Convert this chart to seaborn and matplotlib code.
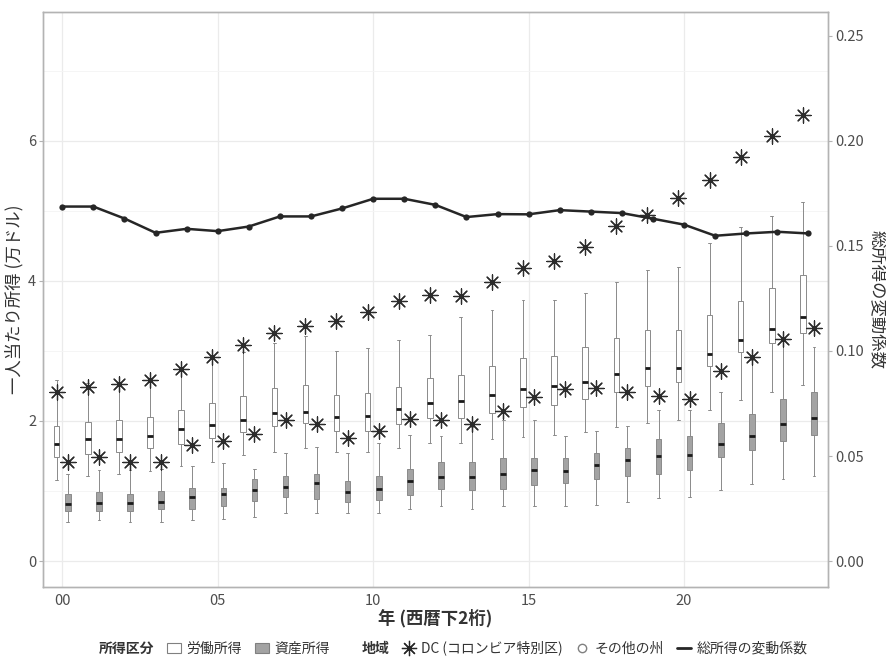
import numpy as np
import pandas as pd
import matplotlib
matplotlib.use("Agg")
import matplotlib.pyplot as plt
from matplotlib.lines import Line2D
from matplotlib.patches import Patch
from matplotlib.ticker import MultipleLocator
import seaborn as sns

# ======================
# データ
# ======================
years = np.arange(0, 25)
year_labels = ["00", "05", "10", "15", "20"]

# 労働所得: ひげ下端, 第1四分位, 中央値, 第3四分位, ひげ上端
labor_lo = [1.16, 1.22, 1.25, 1.29, 1.36, 1.42, 1.51, 1.56, 1.61, 1.56, 1.56, 1.61, 1.68,
            1.68, 1.74, 1.77, 1.80, 1.84, 1.92, 1.97, 2.01, 2.16, 2.30, 2.42, 2.51]
labor_q1 = [1.48, 1.53, 1.56, 1.61, 1.67, 1.76, 1.84, 1.93, 1.97, 1.85, 1.86, 1.96, 2.04,
            2.04, 2.12, 2.20, 2.23, 2.31, 2.42, 2.50, 2.55, 2.78, 2.98, 3.12, 3.25]
labor_med = [1.67, 1.74, 1.74, 1.79, 1.88, 1.94, 2.02, 2.12, 2.13, 2.06, 2.07, 2.17, 2.25,
             2.29, 2.37, 2.45, 2.50, 2.56, 2.67, 2.75, 2.76, 2.96, 3.15, 3.31, 3.48]
labor_q3 = [1.93, 1.98, 2.01, 2.06, 2.16, 2.25, 2.35, 2.47, 2.51, 2.37, 2.40, 2.49, 2.62,
            2.66, 2.79, 2.90, 2.93, 3.05, 3.19, 3.30, 3.30, 3.51, 3.71, 3.90, 4.08]
labor_hi = [2.59, 2.54, 2.51, 2.59, 2.73, 2.90, 2.99, 3.11, 3.21, 3.00, 3.04, 3.16, 3.23,
            3.48, 3.59, 3.72, 3.73, 3.83, 3.98, 4.15, 4.20, 4.54, 4.77, 4.92, 5.12]

# 資産所得
asset_lo = [0.56, 0.58, 0.56, 0.56, 0.59, 0.60, 0.63, 0.68, 0.68, 0.68, 0.68, 0.75, 0.78,
            0.75, 0.78, 0.78, 0.78, 0.80, 0.85, 0.90, 0.91, 1.01, 1.10, 1.17, 1.21]
asset_q1 = [0.72, 0.72, 0.72, 0.74, 0.75, 0.79, 0.86, 0.91, 0.89, 0.84, 0.87, 0.94, 1.03,
            1.01, 1.03, 1.08, 1.11, 1.17, 1.21, 1.24, 1.30, 1.49, 1.58, 1.71, 1.80]
asset_med = [0.81, 0.83, 0.83, 0.85, 0.92, 0.96, 1.01, 1.06, 1.11, 0.99, 1.03, 1.14, 1.20,
             1.20, 1.24, 1.30, 1.29, 1.37, 1.44, 1.50, 1.51, 1.67, 1.79, 1.95, 2.04]
asset_q3 = [0.96, 0.99, 0.96, 1.00, 1.04, 1.05, 1.17, 1.21, 1.25, 1.15, 1.21, 1.32, 1.41,
            1.41, 1.47, 1.47, 1.47, 1.55, 1.61, 1.74, 1.79, 1.97, 2.10, 2.31, 2.41]
asset_hi = [1.25, 1.30, 1.30, 1.32, 1.36, 1.40, 1.32, 1.54, 1.63, 1.55, 1.68, 1.80, 1.79,
            1.92, 2.01, 2.01, 1.79, 1.85, 1.93, 2.16, 2.16, 2.41, 2.87, 3.16, 3.06]

# DC (コロンビア特別区)
dc_labor = [2.41, 2.48, 2.53, 2.59, 2.74, 2.92, 3.08, 3.25, 3.36, 3.43, 3.55, 3.71, 3.80,
            3.79, 3.99, 4.19, 4.29, 4.48, 4.79, 4.94, 5.18, 5.44, 5.77, 6.07, 6.37]
dc_asset = [1.42, 1.49, 1.41, 1.41, 1.66, 1.71, 1.81, 2.01, 1.95, 1.75, 1.85, 2.03, 2.02,
            1.96, 2.14, 2.34, 2.45, 2.47, 2.42, 2.35, 2.31, 2.71, 2.92, 3.17, 3.33]

# 総所得の変動係数 (右軸)
cv_total = [0.1687, 0.1687, 0.1630, 0.1562, 0.1581, 0.1570, 0.1592, 0.1640, 0.1640, 0.1678,
            0.1724, 0.1724, 0.1695, 0.1637, 0.1651, 0.1650, 0.1670, 0.1663, 0.1656, 0.1629,
            0.1601, 0.1548, 0.1559, 0.1567, 0.1559]

scale = 30  # 右軸 = 左軸 / 30

# ======================
# ロング形式に整形
# ======================
rows = []
for kind, stats in [("労働所得", (labor_lo, labor_q1, labor_med, labor_q3, labor_hi)),
                    ("資産所得", (asset_lo, asset_q1, asset_med, asset_q3, asset_hi))]:
    for i, y in enumerate(years):
        for s in stats:
            rows.append({"year": y, "kind": kind, "value": s[i]})
df = pd.DataFrame(rows)

# ======================
# 描画
# ======================
sns.set_theme(style="white")
plt.rcParams["font.family"] = ["Noto Sans CJK JP", "DejaVu Sans"]

fig = plt.figure(figsize=(8.87, 6.6), dpi=100)
ax = fig.add_axes([0.0485, 0.1106, 0.885, 0.8714])

ax.yaxis.set_minor_locator(MultipleLocator(1))
ax.grid(True, which="major", color="#ebebeb", linewidth=0.9)
ax.grid(True, which="minor", axis="y", color="#f4f4f4", linewidth=0.6)
ax.set_axisbelow(True)

sns.boxplot(data=df, x="year", y="value", hue="kind", native_scale=True,
            width=0.72, gap=0.5, whis=(0, 100), showfliers=False,
            palette={"労働所得": "white", "資産所得": "#a3a3a3"},
            linecolor="#8a8a8a", linewidth=0.7,
            medianprops={"color": "#1a1a1a", "linewidth": 2},
            legend=False, ax=ax)

star = (8, 2, 0)
sns.scatterplot(x=years - 0.18, y=dc_labor, marker=star, s=120,
                color="#2b2b2b", linewidth=0.9, ax=ax, zorder=5)
sns.scatterplot(x=years + 0.18, y=dc_asset, marker=star, s=120,
                color="#2b2b2b", linewidth=0.9, ax=ax, zorder=5)

ax.set_xlim(-0.62, 24.63)
ax.set_ylim(-0.37, 7.84)
ax.set_xticks([0, 5, 10, 15, 20])
ax.set_xticklabels(year_labels)
ax.set_yticks([0, 2, 4, 6])

ax2 = ax.twinx()
sns.lineplot(x=years, y=cv_total, color="#262626", linewidth=1.8,
             marker="o", markersize=4.5, markeredgewidth=0, ax=ax2, zorder=6)
ax2.set_ylim(-0.37 / scale, 7.84 / scale)
ax2.set_yticks([0.0, 0.05, 0.10, 0.15, 0.20, 0.25])
ax2.set_yticklabels(["0.00", "0.05", "0.10", "0.15", "0.20", "0.25"])

for a in (ax, ax2):
    for sp in a.spines.values():
        sp.set_color("#b3b3b3")
        sp.set_linewidth(1.0)
    a.tick_params(axis="both", which="major", length=3, width=0.8, color="#b3b3b3",
                  labelsize=10.5, labelcolor="#4d4d4d", pad=2)
    a.tick_params(which="minor", length=0)

ax.set_xlabel("年 (西暦下2桁)", fontsize=12.5, fontweight="bold", color="#333333", labelpad=1)
ax.set_ylabel("一人当たり所得 (万ドル)", fontsize=12.5, color="#333333", labelpad=3)
ax2.set_ylabel("総所得の変動係数", fontsize=12.5, color="#333333",
               rotation=-90, labelpad=16)

# ======================
# 凡例 (下部, 1行)
# ======================
blank = Line2D([], [], linestyle="none")
handles = [
    blank,
    Patch(facecolor="white", edgecolor="#808080", linewidth=0.8),
    Patch(facecolor="#a3a3a3", edgecolor="#808080", linewidth=0.8),
    blank,
    Line2D([], [], marker=star, linestyle="none", color="#262626", markersize=11, markeredgewidth=0.9),
    Line2D([], [], marker="o", linestyle="none", markerfacecolor="none", markeredgecolor="#808080", markersize=6),
    Line2D([], [], color="#262626", linewidth=2),
]
labels = ["所得区分", "労働所得", "資産所得", "地域", "DC (コロンビア特別区)", "その他の州", "総所得の変動係数"]
leg = fig.legend(handles, labels, loc="center", bbox_to_anchor=(0.5, 0.018), ncol=7,
                 frameon=False, fontsize=10, handlelength=1.0, handletextpad=0.4,
                 columnspacing=0.9)
for t in leg.get_texts():
    t.set_color("#333333")
    if t.get_text() in ("所得区分", "地域"):
        t.set_fontweight("bold")

fig.savefig("out.png", dpi=100)
